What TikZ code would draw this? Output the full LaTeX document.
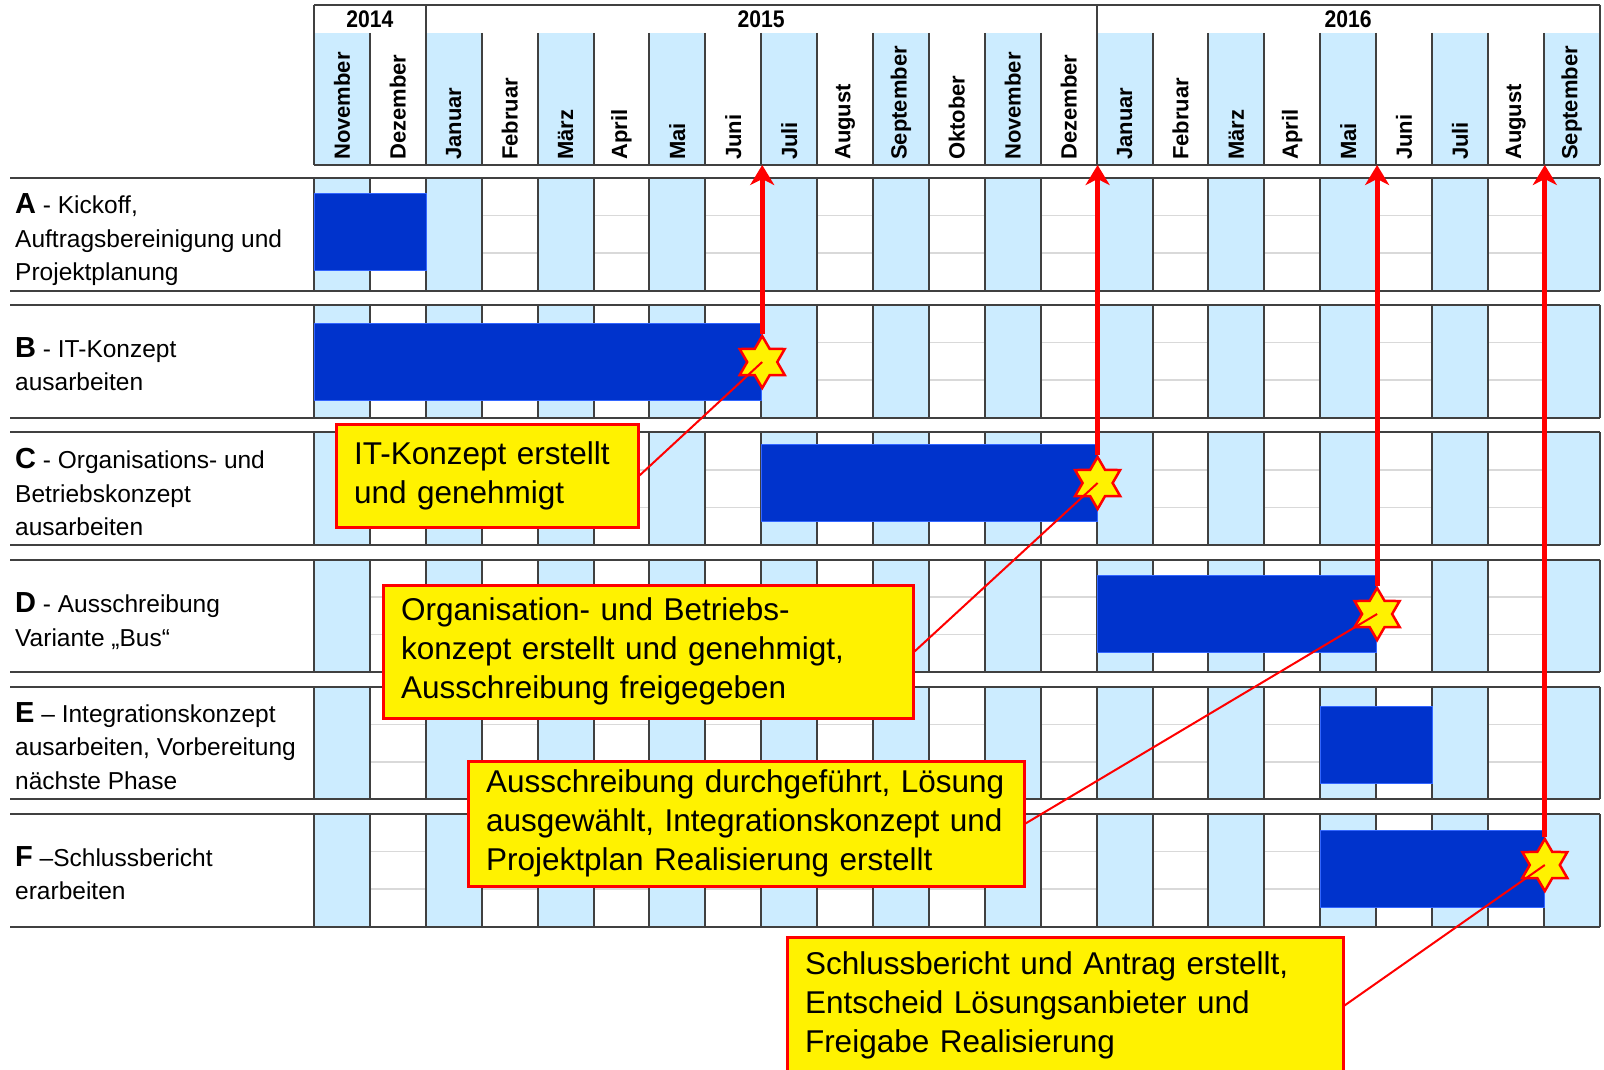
\documentclass[tikz,border=0pt]{standalone}
\usepackage{fontspec}
\setmainfont{Liberation Sans}
\usepackage{graphicx}
\usetikzlibrary{shapes.geometric, arrows.meta, positioning}

\definecolor{cellblue}{RGB}{204,236,255}
\definecolor{barblue}{RGB}{0,51,204}
\definecolor{barline}{RGB}{51,102,255}
\definecolor{gridgrey}{RGB}{217,217,217}

\newcommand{\colw}{55.9}
\newcommand{\taskid}[1]{{\fontsize{29}{29}\selectfont\bfseries #1}}
\newcommand{\yr}[1]{\scalebox{0.88}[1]{#1}}

\tikzset{
  month/.style={rotate=90, anchor=west, inner sep=0pt, font=\fontsize{22}{22}\selectfont\bfseries},
  yearlabel/.style={inner sep=0pt, font=\fontsize{24}{24}\selectfont\bfseries},
  task/.style={anchor=west, align=left, inner sep=0pt, font=\fontsize{24.5}{33.5}\selectfont},
  bar/.style={fill=barblue, draw=barline, line width=1pt, anchor=north west, minimum height=77pt, inner sep=0pt},
  milestone/.style={star, star points=6, star point ratio=1.73, minimum size=52pt, inner sep=0pt, fill=yellow, draw=red, line width=2.5pt},
  callout/.style={draw=red, fill=yellow, line width=3pt, anchor=north west, align=left, inner xsep=18pt, inner ysep=0pt, font=\fontsize{31.5}{39}\selectfont},
  deadline/.style={draw=red, line width=5pt, -{Stealth[length=20pt, width=24pt, inset=6pt]}},
  link/.style={draw=red, line width=2pt},
  gridline/.style={draw=black!75, line width=2pt}
}

\begin{document}
\begin{tikzpicture}[x=1pt, y=-1pt]
  \useasboundingbox (0,0) rectangle (1604,1070);
  \clip (0,0) rectangle (1604,1070);
  \fill[white] (0,0) rectangle (1604,1070);

  % header: years and months
  \foreach \i in {0,2,...,22}
    \fill[cellblue] ({314+\i*\colw},33) rectangle ++(\colw,132);
  \foreach \m [count=\i from 0] in {November,Dezember,Januar,Februar,März,April,Mai,Juni,Juli,August,September,Oktober,November,Dezember,Januar,Februar,März,April,Mai,Juni,Juli,August,September}
    \node[month] (mon\i) at ({314+(\i+0.5)*\colw},160) {\m};
  \foreach \i in {1,...,22}
    \draw[gridline] ({314+\i*\colw},33) -- ++(0,132);
  \foreach \i in {0,2,14,23}
    \draw[gridline] ({314+\i*\colw},5) -- ++(0,160);
  \draw[gridline] (314,5) -- (1600,5);
  \coordinate (hdrbottom) at (314,165);
  \draw[gridline] (hdrbottom) -- ++(1286,0);
  \node[yearlabel] (y2014) at ({314+1*\colw},19) {\yr{2014}};
  \node[yearlabel] (y2015) at ({314+8*\colw},19) {\yr{2015}};
  \node[yearlabel] (y2016) at ({314+18.5*\colw},19) {\yr{2016}};

  % task rows
  \foreach \r in {0,...,5} {
    \pgfmathsetmacro\rt{178+\r*127.2}
    \draw[gridgrey, line width=1.5pt] (314,\rt+37.5) -- ++(1286,0) (314,\rt+75) -- ++(1286,0);
    \foreach \i in {0,2,...,22}
      \fill[cellblue] ({314+\i*\colw},\rt) rectangle ++(\colw,112.5);
    \foreach \i in {0,...,23}
      \draw[gridline] ({314+\i*\colw},\rt) -- ++(0,112.5);
    \draw[gridline] (10,\rt) -- (1600,\rt) (10,\rt+112.5) -- (1600,\rt+112.5);
  }

  \node[task] (tA) at (15,240) {\taskid{A} - Kickoff,\\Auftragsbereinigung und\\Projektplanung};
  \node[task] (tB) at (15,364) {\taskid{B} - IT-Konzept\\ausarbeiten};
  \node[task] (tC) at (15,492) {\taskid{C} - Organisations- und\\Betriebskonzept\\ausarbeiten};
  \node[task] (tD) at (15,621) {\taskid{D} - Ausschreibung\\Variante „Bus“};
  \node[task] (tE) at (15,746) {\taskid{E} – Integrationskonzept\\ausarbeiten, Vorbereitung\\nächste Phase};
  \node[task] (tF) at (15,873) {\taskid{F} –Schlussbericht\\erarbeiten};

  % bars
  \node[bar, minimum width=111.8pt] (barA) at (314,193) {};
  \node[bar, minimum width=447.2pt] (barB) at (314,323) {};
  \node[bar, minimum width=335.4pt] (barC) at (761.2,444) {};
  \node[bar, minimum width=279.5pt] (barD) at (1096.6,575) {};
  \node[bar, minimum width=111.8pt] (barE) at (1320.2,706) {};
  \node[bar, minimum width=223.6pt] (barF) at (1320.2,830) {};

  % milestones
  \node[milestone] (msB) at (barB.east) {};
  \node[milestone] (msC) at (barC.east) {};
  \node[milestone] (msD) at (barD.east) {};
  \node[milestone, yshift=4pt] (msF) at (barF.east) {};
  \draw[deadline] (msB.north) -- (msB |- hdrbottom);
  \draw[deadline] (msC.north) -- (msC |- hdrbottom);
  \draw[deadline] (msD.north) -- (msD |- hdrbottom);
  \draw[deadline] (msF.north) -- (msF |- hdrbottom);

  % callouts
  \node[callout, text width=266pt, minimum height=103pt] (c1) at (334.5,422.5) {IT-Konzept erstellt\\und genehmigt};
  \node[callout, text width=494pt, minimum height=133pt] (c2) at (381.5,583.5) {Organisation- und Betriebs-\\konzept erstellt und genehmigt,\\Ausschreibung freigegeben};
  \node[callout, text width=520pt, minimum height=125pt] (c3) at (466.5,759.5) {Ausschreibung durchgeführt, Lösung\\ausgewählt, Integrationskonzept und\\Projektplan Realisierung erstellt};
  \node[callout, text width=520pt, minimum height=137pt] (c4) at (785.5,935.5) {Schlussbericht und Antrag erstellt,\\Entscheid Lösungsanbieter und\\Freigabe Realisierung};
  \draw[link] (msB.center) -- (c1.east);
  \draw[link] (msC.center) -- (c2.east);
  \draw[link] (msD.center) -- (c3.east);
  \draw[link] (msF.center) -- (c4.east);
\end{tikzpicture}
\end{document}
